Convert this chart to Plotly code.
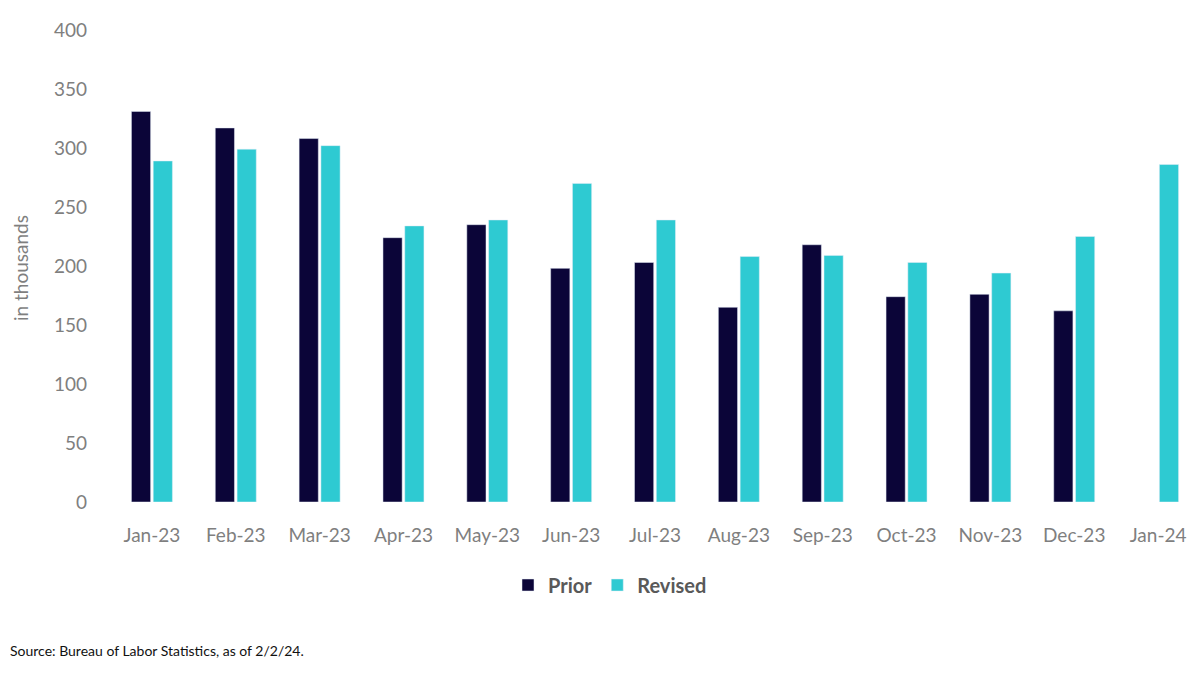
import plotly.graph_objects as go

MONTHS = ['Jan-23', 'Feb-23', 'Mar-23', 'Apr-23', 'May-23', 'Jun-23', 'Jul-23',
          'Aug-23', 'Sep-23', 'Oct-23', 'Nov-23', 'Dec-23', 'Jan-24']
PRIOR = [331, 317, 308, 224, 235, 198, 203, 165, 218, 174, 176, 162, None]
REVISED = [289, 299, 302, 234, 239, 270, 239, 208, 209, 203, 194, 225, 286]
Y_TICKS = [0, 50, 100, 150, 200, 250, 300, 350, 400]

NAVY = '#0b0538'
CYAN = '#2ecad2'
GREY = '#7f7f7f'
FONT = 'Lato, Open Sans, sans-serif'

fig = go.Figure()

fig.add_trace(go.Bar(x=MONTHS, y=PRIOR, name='Prior', marker_color=NAVY))
fig.add_trace(go.Bar(x=MONTHS, y=REVISED, name='Revised', marker_color=CYAN))

# the page body adds 8px, so the plot area sits at 110..1200 x 30..502 on screen
fig.update_layout(
    width=1200,
    height=679,
    margin={'l': 102, 'r': 8, 't': 22, 'b': 185},
    autosize=False,
    barmode='group',
    bargap=0.48,
    bargroupgap=0.12,
    plot_bgcolor='white',
    paper_bgcolor='white',
    font={'family': FONT, 'color': GREY, 'size': 19},
    legend={
        'orientation': 'h',
        'x': 602 / 1200,
        'xref': 'container',
        'xanchor': 'center',
        'y': 1 - 577 / 679,
        'yref': 'container',
        'yanchor': 'middle',
        'font': {'size': 20, 'color': '#595959', 'weight': 'bold'},
        'itemwidth': 30,
        'traceorder': 'normal',
    },
    showlegend=True,
)

fig.update_xaxes(
    showgrid=False,
    showline=False,
    ticks='',
    ticklabelstandoff=20,
    tickfont={'size': 19, 'color': GREY},
)

fig.update_yaxes(
    range=[0, 400],
    tickvals=Y_TICKS,
    showgrid=False,
    showline=False,
    zeroline=False,
    ticks='',
    ticklabelstandoff=22,
    tickfont={'size': 19, 'color': GREY},
)

fig.add_annotation(
    text='in thousands',
    textangle=-90,
    xref='paper', yref='paper',
    x=(20 - 110) / 1090, y=(502 - 268) / 472,
    xanchor='center', yanchor='middle',
    showarrow=False,
    font={'size': 19, 'color': GREY},
)

# source line sits at the very left edge of the figure
fig.add_annotation(
    text='Source: Bureau of Labor Statistics, as of 2/2/24.',
    xref='paper', yref='paper',
    x=-102 / 1090, y=(502 - 650) / 472,
    xanchor='left', yanchor='middle',
    showarrow=False,
    font={'family': 'Liberation Sans Narrow, Lato, sans-serif', 'size': 14, 'color': '#111111'},
)

fig.write_html('out.html')
